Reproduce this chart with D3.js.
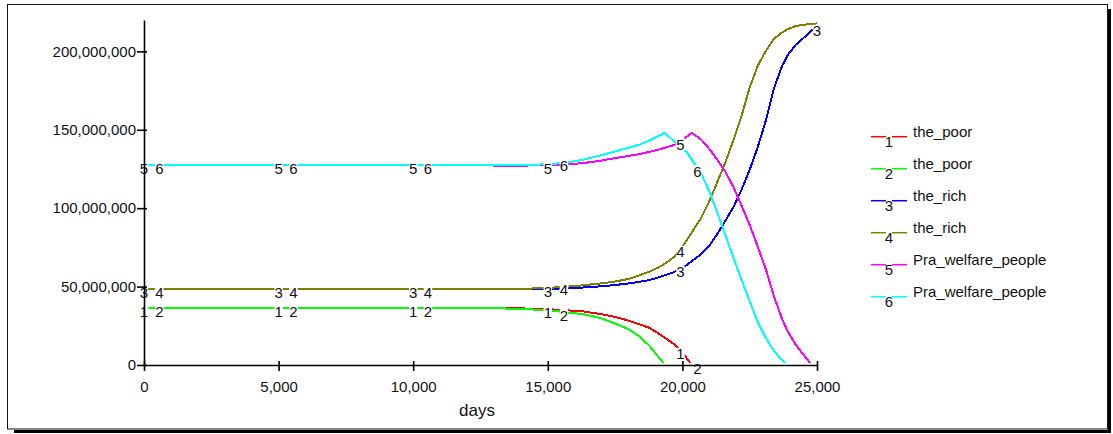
<!DOCTYPE html>
<html>
<head>
<meta charset="utf-8">
<script src="https://cdn.jsdelivr.net/npm/d3@7"></script>
<style>
  body { margin: 0; background: #fff; }
  text { font-family: Arial, "Liberation Sans", sans-serif; }
</style>
</head>
<body>
<div id="chartarea"></div>
<script>
    // time axis (days) shared by all six runs
    var days = [0, 5000, 10000, 12500, 13500, 14000, 15000, 15700, 16300, 17000, 17500, 18000,
                18400, 18800, 19100, 19350, 19700, 20000, 20160, 20350, 20700, 21000, 21300, 21600,
                21900, 22200, 22500, 22800, 23100, 23400, 23700, 23900, 24200, 24500, 24800, 25000];

    // values in millions
    var poorA = [36.3, 36.3, 36.3, 36.3, 36.2, 36.1, 35.6, 34.9, 34.2, 32.4, 30.6, 28.3,
                 26.0, 23.5, 20.2, 17.4, 13.1, 7.8, 4.3, 0, 0, 0, 0, 0,
                 0, 0, 0, 0, 0, 0, 0, 0, 0, 0, 0, 0];
    var poorB = [36.3, 36.3, 36.3, 36.3, 36.0, 35.7, 35.0, 33.5, 32.5, 29.7, 26.5, 22.8,
                 18.3, 11.8, 5.3, 0, 0, 0, 0, 0, 0, 0, 0, 0,
                 0, 0, 0, 0, 0, 0, 0, 0, 0, 0, 0, 0];
    var richA = [48.4, 48.4, 48.4, 48.4, 48.4, 48.4, 48.6, 48.9, 49.4, 50.2, 51.0, 52.0,
                 53.0, 54.3, 55.8, 57.2, 59.3, 62.1, 63.7, 66.2, 70.8, 76.0, 83.6, 92.1,
                 100.8, 111.9, 124.6, 139.0, 156.0, 176.4, 190.5, 197.3, 204.0, 208.5, 213.4, 215.0];
    var richB = [48.4, 48.4, 48.4, 48.4, 48.4, 48.5, 49.2, 49.9, 50.8, 52.1, 53.2, 54.9,
                 57.2, 59.7, 62.1, 64.6, 69.0, 75.5, 79.6, 84.6, 93.9, 104.5, 116.8, 129.3,
                 143.7, 159.0, 177.0, 190.8, 200.3, 208.0, 212.0, 214.0, 216.1, 216.9, 217.6, 217.8];
    var welfareA = [127.4, 127.4, 127.4, 127.4, 127.0, 127.1, 127.5, 128.0, 128.7, 130.4, 131.9, 133.3,
                    134.5, 136.0, 137.3, 138.5, 140.3, 143.5, 145.6, 148.0, 143.7, 137.8, 130.9, 123.0,
                    113.4, 101.5, 89.3, 75.4, 61.0, 43.8, 29.5, 21.8, 13.2, 6.5, 0, 0];
    var welfareB = [127.4, 127.4, 127.4, 127.4, 127.4, 127.5, 128.0, 129.0, 130.9, 133.8, 136.2, 138.5,
                    140.5, 143.3, 145.9, 148.0, 142.5, 138.1, 135.8, 130.9, 121.9, 110.8, 97.0, 82.6,
                    68.2, 54.3, 40.5, 27.3, 17.1, 9.1, 3.0, 0, 0, 0, 0, 0];

    var seriesNames = ["the_poor", "the_poor", "the_rich", "the_rich", "Pra_welfare_people", "Pra_welfare_people"];
    var seriesColors = ["#ff0000", "#00ff00", "#0000ff", "#808000", "#ff00ff", "#00ffff"];
    var seriesValues = [poorA, poorB, richA, richB, welfareA, welfareB];

    // days where the run numbers sit on the curves
    var labelDays = [
        [0, 5000, 10000, 15000, 19930],
        [570, 5550, 10550, 15600, 20560],
        [0, 5000, 10000, 15000, 19930, 25000],
        [570, 5550, 10550, 15600, 19930],
        [0, 5000, 10000, 15000, 19930],
        [570, 5550, 10550, 15600, 20560]];

    var xTicks = [0, 5000, 10000, 15000, 20000, 25000];
    var yTicks = [0, 50e6, 100e6, 150e6, 200e6];

    var svg = d3.select("#chartarea").append("svg")
                .attr("width", 1113)
                .attr("height", 434);

    // frame with its drop shadow
    svg.append("rect").attr("x", 1108).attr("y", 9).attr("width", 3).attr("height", 424).attr("fill", "#000");
    svg.append("rect").attr("x", 14).attr("y", 430).attr("width", 1097).attr("height", 3).attr("fill", "#000");
    svg.append("rect")
       .attr("x", 7.5).attr("y", 4.5)
       .attr("width", 1100).attr("height", 424.5)
       .attr("fill", "#fff")
       .attr("stroke", "#111")
       .attr("stroke-width", 1);

    var x = d3.scaleLinear().domain([0, 25000]).range([144, 817]);
    var y = d3.scaleLinear().domain([0, 220e6]).range([365, 20]);

    // keep the runs above the time axis once they hit zero
    svg.append("clipPath").attr("id", "plotclip")
       .append("rect").attr("x", 130).attr("y", 0).attr("width", 700).attr("height", 363);

    var line = d3.line()
                 .x(function (d) { return x(d[0]); })
                 .y(function (d) { return y(d[1] * 1e6); });

    var runs = svg.append("g").attr("clip-path", "url(#plotclip)");
    seriesValues.forEach(function (vals, i) {
        var pts = days.map(function (d, k) { return [d, vals[k]]; });
        runs.append("path")
           .attr("d", line(pts))
           .attr("fill", "none")
           .attr("stroke", seriesColors[i])
           .attr("stroke-width", 2)
           .attr("shape-rendering", "crispEdges");
    });

    // linear lookup of a run at a given day
    function valueAt(vals, d) {
        var i = d3.bisectRight(days, d);
        if (i >= days.length) return vals[vals.length - 1];
        var t = (d - days[i - 1]) / (days[i] - days[i - 1]);
        return vals[i - 1] + t * (vals[i] - vals[i - 1]);
    }

    // run numbers on the curves, each with a white patch behind it
    labelDays.forEach(function (list, i) {
        list.forEach(function (d) {
            var cx = x(d);
            var cy = y(valueAt(seriesValues[i], d) * 1e6) + 8.5;
            svg.append("rect")
               .attr("x", cx - 4.2).attr("y", cy - 11.5)
               .attr("width", 8.4).attr("height", 12.5)
               .attr("fill", "#fff");
            svg.append("text")
               .attr("x", cx).attr("y", cy)
               .attr("text-anchor", "middle")
               .attr("font-size", "15px")
               .attr("fill", "#111")
               .text(i + 1);
        });
    });

    // axes
    var yAxis = svg.append("g")
                   .attr("transform", "translate(144,0)")
                   .call(d3.axisLeft(y).tickValues(yTicks).tickFormat(d3.format(","))
                           .tickSize(7).tickSizeOuter(0).tickPadding(1));
    yAxis.selectAll(".tick line").attr("x1", 3);

    var xAxis = svg.append("g")
                   .attr("transform", "translate(0,365)")
                   .call(d3.axisBottom(x).tickValues(xTicks).tickFormat(d3.format(","))
                           .tickSize(6).tickSizeOuter(0).tickPadding(10));
    xAxis.selectAll(".tick line").attr("y1", -4);

    svg.selectAll(".domain, .tick line").attr("stroke", "#000").attr("stroke-width", 1.6);
    svg.selectAll(".tick text")
       .attr("font-family", "Arial, 'Liberation Sans', sans-serif")
       .attr("font-size", "15px")
       .attr("fill", "#111");

    svg.append("text")
       .attr("x", 477).attr("y", 416)
       .attr("text-anchor", "middle")
       .attr("font-size", "17px")
       .attr("fill", "#111")
       .text("days");

    // legend
    seriesNames.forEach(function (name, i) {
        var ly = 136.7 + i * 32;
        svg.append("line").attr("x1", 871).attr("x2", 886).attr("y1", ly).attr("y2", ly)
           .attr("stroke", seriesColors[i]).attr("stroke-width", 1.5);
        svg.append("line").attr("x1", 892).attr("x2", 907).attr("y1", ly).attr("y2", ly)
           .attr("stroke", seriesColors[i]).attr("stroke-width", 1.5);
        svg.append("text")
           .attr("x", 889).attr("y", ly + 10)
           .attr("text-anchor", "middle")
           .attr("font-size", "15px")
           .attr("fill", "#111")
           .text(i + 1);
        svg.append("text")
           .attr("x", 913).attr("y", ly)
           .attr("font-size", "15px")
           .attr("fill", "#111")
           .text(name);
    });
</script>
</body>
</html>
